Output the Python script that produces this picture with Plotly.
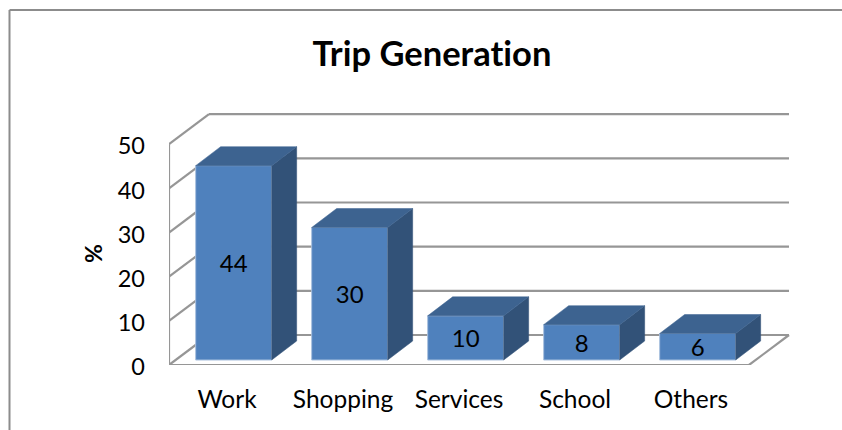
import plotly.graph_objects as go

categories = ["Work", "Shopping", "Services", "School", "Others"]
values = [44, 30, 10, 8, 6]
y_ticks = [0, 10, 20, 30, 40, 50]

# geometry in axis units
DX, DY = 40 / 116, 30 / 4.417      # full depth of the floor
BX, BY = 25 / 116, 19 / 4.417      # depth of a bar
FX, FY = 6.67 / 116, 5 / 4.417     # gap in front of a bar
BW = 76 / 116

GRID = "#969696"
FRONT, TOP, SIDE = "#4f81bd", "#3d6390", "#325278"
FONT = "Lato, Carlito, Calibri, sans-serif"
INK = "#000000"
n = len(categories)

fig = go.Figure()


def seg(x0, y0, x1, y1):
    fig.add_shape(type="line", xref="x", yref="y", x0=x0, y0=y0, x1=x1, y1=y1,
                  layer="below", line=dict(color=GRID, width=2.2))


for v in y_ticks:
    seg(0, v, DX, v + DY)
    seg(DX, v + DY, n + DX, v + DY)
seg(0, 0, 0, y_ticks[-1])
seg(0, 0, n, 0)
seg(n, 0, n + DX, DY)

xc = [i + 0.5 + FX for i in range(n)]
fig.add_trace(go.Bar(
    x=xc, y=values, base=[FY] * n, width=BW,
    marker=dict(color=FRONT, line=dict(color="#a9c0de", width=1)),
    text=[str(v) for v in values], textposition="inside", insidetextanchor="middle",
    textangle=0, constraintext="none", cliponaxis=False,
    textfont=dict(family=FONT, size=24, color=INK), hoverinfo="skip",
))

for c, v in zip(xc, values):
    l, r, t = c - BW / 2, c + BW / 2, v + FY
    fig.add_trace(go.Scatter(
        x=[r, r + BX, r + BX, r, r], y=[FY, FY + BY, t + BY, t, FY],
        mode="lines", fill="toself", fillcolor=SIDE, line=dict(color=SIDE, width=0.5), hoverinfo="skip"))
    fig.add_trace(go.Scatter(
        x=[l, l + BX, r + BX, r, l], y=[t, t + BY, t + BY, t, t],
        mode="lines", fill="toself", fillcolor=TOP, line=dict(color=TOP, width=0.5), hoverinfo="skip"))

W, H = 842, 430
L, R, T, B = 169, 35, 100, 65
px = lambda p: (p - L) / (W - L - R)
py = lambda p: (H - B - p) / (H - T - B)
for a in [dict(x0=px(9.5), y0=py(10), x1=px(842), y1=py(10)),
          dict(x0=px(9.5), y0=py(10), x1=px(9.5), y1=py(430))]:
    fig.add_shape(type="line", xref="paper", yref="paper", line=dict(color="#8c8c8c", width=2), **a)

fig.add_annotation(text="<b>%</b>", xref="paper", yref="paper", x=px(93), y=py(254), textangle=-90,
                   showarrow=False, xanchor="center", yanchor="middle",
                   font=dict(family=FONT, size=23, color=INK))

fig.update_layout(
    width=W, height=H, margin=dict(l=L, r=R, t=T, b=B),
    paper_bgcolor="white", plot_bgcolor="white", showlegend=False, barmode="overlay",
    title=dict(text="<b>Trip Generation</b>", x=432 / W, xanchor="center", y=1 - 54 / H, yanchor="middle",
               font=dict(family=FONT, size=34.5, color=INK)),
    xaxis=dict(range=[0, 5.5], tickmode="array", tickvals=[i + 0.5 for i in range(n)], ticktext=categories,
               showgrid=False, zeroline=False, showline=False, ticks="", ticklabelstandoff=17,
               tickfont=dict(family=FONT, size=24.5, color=INK)),
    yaxis=dict(range=[0, 60], tickmode="array", tickvals=y_ticks, showgrid=False, zeroline=False,
               showline=False, ticks="", ticklabelstandoff=23, ticklabelshift=2,
               tickfont=dict(family=FONT, size=23.5, color=INK)),
)

fig.write_html(
    "out.html",
    config={"displayModeBar": False},
    post_script=(
        "document.body.style.margin='0';document.body.style.overflow='hidden';"
        "var s=document.createElement('style');"
        "s.textContent='svg text{font-variant-ligatures:none !important}';"
        "document.head.appendChild(s);"
    ),
)
